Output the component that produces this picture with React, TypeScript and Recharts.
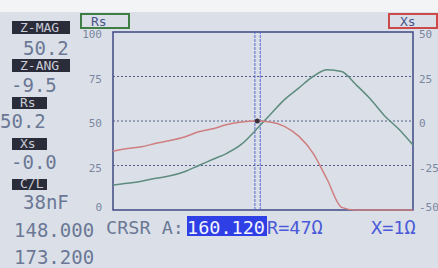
import React from 'react';
import { LineChart, Line, XAxis, YAxis, ReferenceLine, ReferenceArea, ReferenceDot } from 'recharts';

// sweep 148.000 .. 173.200 MHz
const freqs = [148.0, 149.2, 150.4, 151.6, 152.8, 154.0, 155.2, 156.4, 157.6, 158.8, 160.0, 161.2, 162.4, 163.6, 164.8, 166.0, 167.2, 168.4, 169.6, 170.8, 172.0, 173.2];
const rsValues = [14, 15, 16.2, 17.8, 19.2, 21.5, 25, 28.5, 32, 37, 45, 53.5, 62, 68.5, 75, 78.8, 77.8, 70.5, 62.5, 53, 45.5, 36.5];
const xsValues = [-17, -15.5, -14.5, -12.5, -11, -9, -6, -4.3, -2, -0.6, 0, -0.5, -3, -8.5, -18, -33, -48.5, -50, -50, -50, -50, -50];

const rsTicks = [0, 25, 50, 75, 100];
const xsTicks = [-50, -25, 0, 25, 50];
const gridLines = [25, 50, 75];
const cursorFreq = 160.12;

const data = freqs.map((f, i) => ({ freq: f, rs: rsValues[i], xs: xsValues[i] }));

const mono = 'DejaVu Sans Mono, monospace';
const bg = '#dbe0e8';
const dimText = '#6b7895';

const AxisTick = (props: any) => {
    const { x, y, payload, textAnchor } = props;
    const ty = Math.min(y + 6, 211);
    return (
        <text x={x} y={ty} textAnchor={textAnchor} fontSize={11} fontFamily={mono} fill="#7a86a0">
            {payload.value}
        </text>
    );
};

const LabelBox = ({ x, y, w, h, text }: { x: number; y: number; w: number; h: number; text: string }) => (
    <g>
        <rect x={x} y={y} width={w} height={h} fill="#2b2c3a" />
        <text x={x + 8} y={y + h - 2} fontSize={13} fontFamily={mono} fill="#c9cdd8">{text}</text>
    </g>
);

const App = () => {
    return (
        <div style={{ position: 'absolute', left: 0, top: 0, width: 438, height: 268, background: bg, overflow: 'hidden' }}>
            <div style={{ position: 'absolute', left: 0, top: 0, width: 438, height: 12, background: '#f3f4f6' }} />
            <LineChart
                width={438}
                height={268}
                data={data}
                margin={{ top: 32, right: 0, bottom: 58, left: 0 }}
            >
                <XAxis type="number" dataKey="freq" domain={[148, 173.2]} hide />
                <YAxis
                    yAxisId="left"
                    domain={[0, 100]}
                    ticks={rsTicks}
                    width={113}
                    axisLine={false}
                    tickLine={false}
                    tickSize={0}
                    tickMargin={11}
                    tick={<AxisTick />}
                />
                <YAxis
                    yAxisId="right"
                    orientation="right"
                    domain={[-50, 50]}
                    ticks={xsTicks}
                    width={25}
                    axisLine={false}
                    tickLine={false}
                    tickSize={0}
                    tickMargin={6}
                    tick={<AxisTick />}
                />
                {gridLines.map((v) => (
                    <ReferenceLine key={v} yAxisId="left" y={v} stroke="#55608a" strokeDasharray="2 2" />
                ))}
                <ReferenceLine yAxisId="left" x={cursorFreq - 0.2} stroke="#5566d8" strokeDasharray="3 1" />
                <ReferenceLine yAxisId="left" x={cursorFreq + 0.25} stroke="#5566d8" strokeDasharray="3 1" />
                <ReferenceArea yAxisId="left" x1={148} x2={173.2} y1={0} y2={100} fill="none" stroke="#3f4884" strokeWidth={1.5} fillOpacity={0} />
                <Line yAxisId="left" type="monotone" dataKey="rs" stroke="#5e8c7e" strokeWidth={1.5} dot={false} isAnimationActive={false} />
                <Line yAxisId="right" type="monotone" dataKey="xs" stroke="#cf7f80" strokeWidth={1.5} dot={false} isAnimationActive={false} />
                <ReferenceDot yAxisId="left" x={cursorFreq} y={50} r={2.5} fill="#3a2e3a" stroke="none" />
            </LineChart>
            <svg width={438} height={268} style={{ position: 'absolute', left: 0, top: 0, pointerEvents: 'none' }}>
                {/* trace legends */}
                <rect x={81} y={14} width={48} height={14} fill={bg} stroke="#3f7f45" strokeWidth={2} />
                <text x={91} y={26} fontSize={13} fontFamily={mono} fill="#48548a">Rs</text>
                <rect x={389} y={14} width={48} height={14} fill={bg} stroke="#cc4a4a" strokeWidth={2} />
                <text x={400} y={26} fontSize={13} fontFamily={mono} fill="#48548a">Xs</text>

                {/* readouts */}
                <LabelBox x={12} y={21} w={58} h={13} text="Z-MAG" />
                <text x={23} y={55} fontSize={19} fontFamily={mono} fill={dimText}>50.2</text>
                <LabelBox x={12} y={59} w={58} h={13} text="Z-ANG" />
                <text x={11} y={92} fontSize={19} fontFamily={mono} fill={dimText}>-9.5</text>
                <LabelBox x={12} y={97} w={35} h={12} text="Rs" />
                <text x={0} y={128} fontSize={19} fontFamily={mono} fill={dimText}>50.2</text>
                <LabelBox x={12} y={138} w={35} h={12} text="Xs" />
                <text x={11} y={169} fontSize={19} fontFamily={mono} fill={dimText}>-0.0</text>
                <LabelBox x={12} y={179} w={35} h={11} text="C/L" />
                <text x={23} y={209} fontSize={19} fontFamily={mono} fill={dimText}>38nF</text>
                <text x={14} y={237} fontSize={19} fontFamily={mono} fill={dimText}>148.000</text>
                <text x={14} y={264} fontSize={19} fontFamily={mono} fill={dimText}>173.200</text>

                {/* cursor line */}
                <text x={106} y={234} fontSize={18.5} fontFamily={mono} fill={dimText}>CRSR A:</text>
                <rect x={187} y={216} width={80} height={20} fill="#2f3fe6" />
                <text x={187} y={234} fontSize={18.5} fontFamily={mono} fill="#f2f4ff">160.120</text>
                <text x={267} y={234} fontSize={18.5} fontFamily={mono} fill="#4a5ad8">R=47Ω</text>
                <text x={371} y={234} fontSize={18.5} fontFamily={mono} fill="#4a5ad8">X=1Ω</text>
            </svg>
        </div>
    );
};

export default App;
